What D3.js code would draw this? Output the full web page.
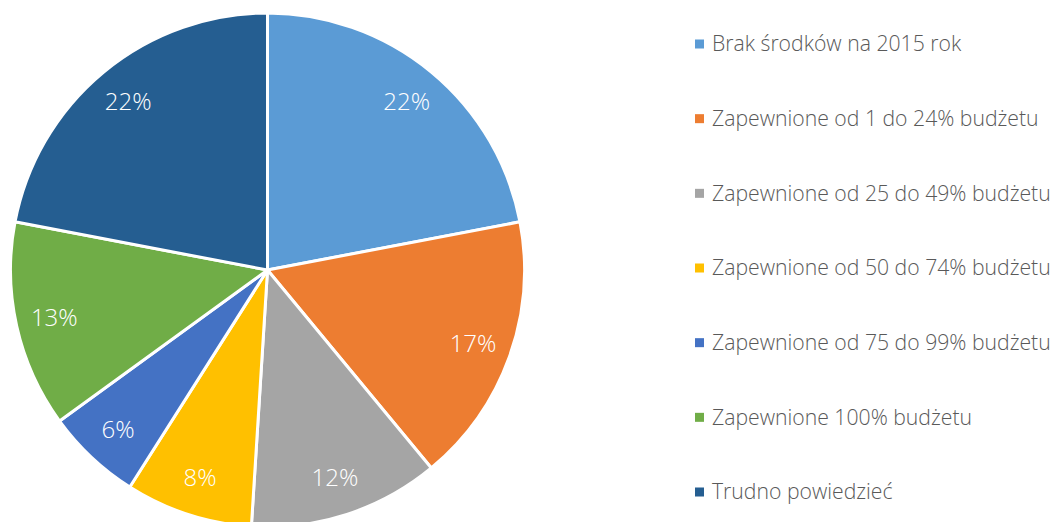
<!DOCTYPE html>
<html><head><meta charset="utf-8">
<script src="https://cdn.jsdelivr.net/npm/d3@7"></script>
<style>body{margin:0;background:#fff}svg{display:block}</style>
</head><body>
<svg id="c" width="1054" height="522"></svg>
<script>
const categories = ["Brak środków na 2015 rok","Zapewnione od 1 do 24% budżetu","Zapewnione od 25 do 49% budżetu","Zapewnione od 50 do 74% budżetu","Zapewnione od 75 do 99% budżetu","Zapewnione 100% budżetu","Trudno powiedzieć"];
const values = [22,17,12,8,6,13,22];
const colors = ["#5B9BD5","#ED7D31","#A5A5A5","#FFC000","#4472C4","#70AD47","#255E91"];

const svg = d3.select("#c");
const cx = 267.5, cy = 270, R = 257;
const font = "'Open Sans', sans-serif";
const pie = d3.pie().sort(null).value(d=>d)(values);
const arc = d3.arc().innerRadius(0).outerRadius(R);
const labelArc = d3.arc().innerRadius(R*0.85).outerRadius(R*0.85);
const g = svg.append("g").attr("transform",`translate(${cx},${cy})`);
g.selectAll("path").data(pie).join("path")
  .attr("d",arc).attr("fill",(d,i)=>colors[i])
  .attr("stroke","#fff").attr("stroke-width",3).attr("stroke-linejoin","round");
g.selectAll("text").data(pie).join("text")
  .attr("transform",d=>`translate(${labelArc.centroid(d)})`)
  .attr("text-anchor","middle").attr("dy","0.35em")
  .attr("fill","#fff").attr("font-family",font).attr("font-weight",300).attr("font-size",24)
  .text(d=>d.data+"%");

const ly = d3.scalePoint().domain(categories).range([44,492]);
const lg = svg.append("g");
const items = lg.selectAll("g").data(categories).join("g")
  .attr("transform",d=>`translate(695,${ly(d)})`);
items.append("rect").attr("x",0).attr("y",-4.5).attr("width",9).attr("height",9)
  .attr("fill",(d,i)=>colors[i]);
items.append("text").attr("x",17).attr("dy","0.35em")
  .attr("fill","#595959").attr("font-family",font).attr("font-weight",300).attr("font-size",21.2)
  .text(d=>d);
</script>
</body></html>
